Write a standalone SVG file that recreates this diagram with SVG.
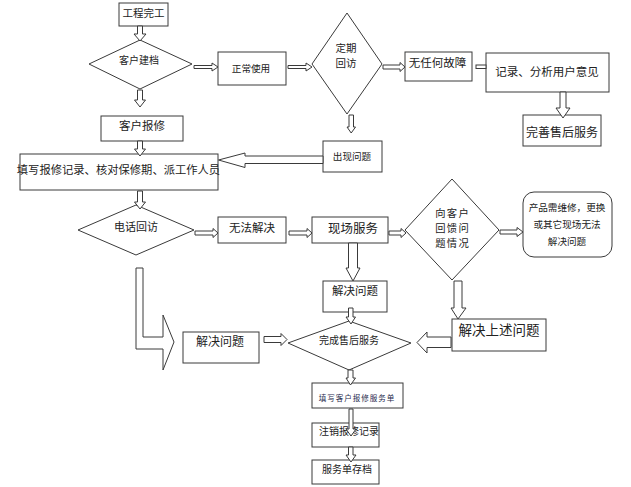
<svg xmlns="http://www.w3.org/2000/svg" width="631" height="487" viewBox="0 0 631 487">
<style>
.n{fill:#fff;stroke:#3a3a3a;stroke-width:1}
.t{font-family:"Noto Sans CJK SC","Liberation Sans",sans-serif;fill:#222;text-anchor:middle}
.a{fill:#fff;stroke:#3a3a3a;stroke-width:1;stroke-linejoin:miter}
</style>
<rect width="631" height="487" fill="#fff"/>
<g id="n1"><rect class="n" x="119" y="3" width="49" height="23"/><text class="t" x="143.5" y="16.5" font-size="10.5">工程完工</text></g>
<g id="n2"><polygon class="n" points="89,64 140,40 192,64 140,89"/><text class="t" x="139" y="64" font-size="10">客户建档</text></g>
<g id="n3"><rect class="n" x="218" y="52" width="68" height="33"/><text class="t" x="251" y="71.5" font-size="9.6">正常使用</text></g>
<g id="n4"><polygon class="n" points="312,64 347,13 382,64 347,114"/><text class="t" x="346" y="51.5" font-size="10.5">定期</text><text class="t" x="346" y="67" font-size="10.5">回访</text></g>
<g id="n5"><rect class="n" x="405" y="52" width="67" height="29"/><text class="t" x="437.5" y="66.5" font-size="11.5">无任何故障</text></g>
<g id="n6"><rect class="n" x="486" y="53" width="123" height="39"/><text class="t" x="547" y="76" font-size="11.5">记录、分析用户意见</text></g>
<g id="n7"><rect class="n" x="523" y="115" width="78" height="31"/><text class="t" x="562" y="137" font-size="12">完善售后服务</text></g>
<g id="n8"><rect class="n" x="101" y="116" width="82" height="25"/><text class="t" x="142" y="129.5" font-size="11.5">客户报修</text></g>
<g id="n9"><rect class="n" x="323" y="141" width="59" height="31"/><text class="t" x="352" y="160" font-size="9.6">出现问题</text></g>
<g id="n10"><rect class="n" x="20" y="154" width="198" height="36"/><text class="t" x="118.5" y="174" font-size="11.3">填写报修记录、核对保修期、派工作人员</text></g>
<g id="n11"><polygon class="n" points="78,230 136,205 194,230 136,255"/><text class="t" x="136" y="231" font-size="11">电话回访</text></g>
<g id="n12"><rect class="n" x="218" y="217" width="68" height="26"/><text class="t" x="252" y="232" font-size="11.5">无法解决</text></g>
<g id="n13"><rect class="n" x="312" y="217" width="76" height="26"/><text class="t" x="353" y="233" font-size="12.5">现场服务</text></g>
<g id="n14"><polygon class="n" points="405,230 452,179 499,230 452,280"/><text class="t" x="452.6" y="217" font-size="10.3" letter-spacing="1.3">向客户</text><text class="t" x="452.6" y="232" font-size="10.3" letter-spacing="1.3">回馈问</text><text class="t" x="452.6" y="247" font-size="10.3" letter-spacing="1.3">题情况</text></g>
<g id="n15"><rect class="n" x="523" y="192" width="89" height="65" rx="11"/><text class="t" x="567" y="210.5" font-size="9.6">产品需维修，更换</text><text class="t" x="567" y="227.5" font-size="9.6">或其它现场无法</text><text class="t" x="567" y="244.5" font-size="9.6">解决问题</text></g>
<g id="n16"><rect class="n" x="323" y="281" width="64" height="31"/><text class="t" x="355" y="295" font-size="11.5">解决问题</text></g>
<g id="n17"><rect class="n" x="452" y="319" width="94" height="32"/><text class="t" x="499" y="335" font-size="13.5">解决上述问题</text></g>
<g id="n18"><rect class="n" x="183" y="332" width="76" height="31"/><text class="t" x="220" y="346" font-size="12">解决问题</text></g>
<g id="n19"><polygon class="n" points="288,343 349,321 411,343 349,370"/><text class="t" x="349" y="344" font-size="10">完成售后服务</text></g>
<g id="n20"><rect class="n" x="312" y="383" width="91" height="25"/><text class="t" x="357" y="401" font-size="7.6" letter-spacing="0.9" style="fill:#1f2a4d">填写客户报修服务单</text></g>
<g id="n21"><rect class="n" x="312" y="423" width="67" height="24"/><text class="t" x="349" y="435" font-size="10">注销报修记录</text></g>
<g id="n22"><rect class="n" x="312" y="460" width="67" height="24"/><text class="t" x="347" y="473" font-size="10">服务单存档</text></g>
<g id="connectors">
<path class="a" d="M137.5,26 L142.5,26 L142.5,34 L146,34 L140,41 L134,34 L137.5,34 Z"/>
<path class="a" d="M194,65.5 L212,65.5 L212,63 L218,67 L212,71 L212,68.5 L194,68.5 Z"/>
<path class="a" d="M288,65.5 L306,65.5 L306,63 L312,67 L306,71 L306,68.5 L288,68.5 Z"/>
<path class="a" d="M137.5,90 L142.5,90 L142.5,100 L145.5,100 L140,107 L134.5,100 L137.5,100 Z"/>
<path class="a" d="M137.5,141 L142.5,141 L142.5,149 L145.5,149 L140,156 L134.5,149 L137.5,149 Z"/>
<path class="a" d="M383,65 L400,65 L400,62.5 L405,67 L400,71.5 L400,69 L383,69 Z"/>
<rect class="a" x="476" y="65" width="10" height="3.5"/>
<path class="a" d="M560,92 L566,92 L566,108 L570,108 L563,118 L556,108 L560,108 Z"/>
<path class="a" d="M349,115 L353.5,115 L353.5,127 L355.5,127 L351.2,133 L347,127 L349,127 Z"/>
<path class="a" d="M323,156 L245,156 L245,153 L218.5,160 L245,167.5 L245,163.5 L323,163.5 Z"/>
<path class="a" d="M137.5,191 L142.5,191 L142.5,202 L145.5,202 L140,209 L134.5,202 L137.5,202 Z"/>
<path class="a" d="M195,231 L213,231 L213,228.5 L218,233 L213,237.5 L213,235 L195,235 Z"/>
<path class="a" d="M289,231 L307,231 L307,228.5 L312,233 L307,237.5 L307,235 L289,235 Z"/>
<path class="a" d="M389,231 L401,231 L401,228.5 L406,233 L401,237.5 L401,235 L389,235 Z"/>
<path class="a" d="M500,230 L517,230 L517,227.5 L523,232 L517,236.5 L517,234 L500,234 Z"/>
<path class="a" d="M348.5,243 L357.5,243 L357.5,268 L360,268 L353,281 L346,268 L348.5,268 Z"/>
<path class="a" d="M348.5,308 L353,308 L353,317 L355.5,317 L351,324 L346,317 L348.5,317 Z"/>
<path class="a" d="M454,281 L462,281 L462,308 L466,308 L458,319 L451,308 L454,308 Z"/>
<path class="a" d="M451,337 L427,337 L427,332 L417,342.5 L427,353 L427,347.5 L451,347.5 Z"/>
<path class="a" d="M264,336.5 L281,336.5 L281,333.5 L287,339.5 L281,345.5 L281,342.5 L264,342.5 Z"/>
<path class="a" d="M136,268 L143,268 L143,337 L163,337 L163,315 L174,342 L163,370 L163,349 L136,349 Z"/>
<path class="a" d="M348,370 L353,370 L353,378 L355.5,378 L350.5,385 L346,378 L348,378 Z"/>
<path class="a" d="M349,409 L353,409 L353,429 L356,429 L351,436 L346,429 L349,429 Z"/>
<path class="a" d="M348.5,447 L353,447 L353,455 L356,455 L351,462 L346,455 L348.5,455 Z"/>
</g>
</svg>
